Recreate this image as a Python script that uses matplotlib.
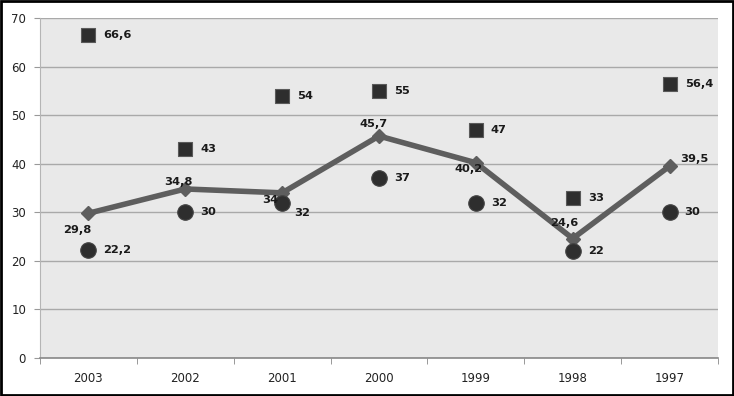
import matplotlib.pyplot as plt
from matplotlib.patches import Rectangle

years = ['2003', '2002', '2001', '2000', '1999', '1998', '1997']
squares = [66.6, 43, 54, 55, 47, 33, 56.4]
circles = [22.2, 30, 32, 37, 32, 22, 30]
line_vals = [29.8, 34.8, 34, 45.7, 40.2, 24.6, 39.5]

# label offsets for the line series, in pixels (dx, dy)
line_offsets = [(-11, -17), (-7, 7), (-12, -7), (-5, 12), (-7, -6), (-8, 16), (25, 7)]
circle_offsets = [(15, 0)] * 7
circle_offsets[2] = (12, -10)

def fmt(v):
    s = ('%g' % v).replace('.', ',')
    return s

fig = plt.figure(figsize=(7.34, 3.96), dpi=100)
ax = fig.add_axes([40 / 734, 38 / 396, 678 / 734, 340 / 396])
ax.set_facecolor('#e9e9e9')

x = list(range(len(years)))
ax.set_xlim(-0.5, 6.5)
ax.set_ylim(0, 70)
ax.set_yticks(range(0, 71, 10))
ax.yaxis.grid(True, color='#a9a9a9', lw=1)
ax.set_axisbelow(True)

ax.plot(x, line_vals, color='#5e5e5e', lw=4, marker='D', ms=7, zorder=3)
ax.scatter(x, squares, marker='s', s=115, color='#2e2e2e', edgecolors='#5a5a5a', lw=0.8, zorder=4)
ax.scatter(x, circles, marker='o', s=125, color='#2e2e2e', edgecolors='#444444', lw=0.8, zorder=4)

tk = dict(fontsize=8.2, fontweight='bold', color='#1a1a1a', zorder=5)
for i in x:
    ax.annotate(fmt(squares[i]), (i, squares[i]), xytext=(15, 0), textcoords='offset pixels',
                ha='left', va='center', **tk)
    ax.annotate(fmt(circles[i]), (i, circles[i]), xytext=circle_offsets[i], textcoords='offset pixels',
                ha='left', va='center', **tk)
    ax.annotate(fmt(line_vals[i]), (i, line_vals[i]), xytext=line_offsets[i], textcoords='offset pixels',
                ha='center', va='center', **tk)

ax.set_xticks(x)
ax.set_xticklabels(years)
ax.set_xticks([i - 0.5 for i in range(8)], minor=True)
ax.tick_params(axis='x', which='major', length=0, pad=10, labelsize=8.5, labelcolor='#222222')
ax.tick_params(axis='x', which='minor', length=4, color='#888888')
ax.tick_params(axis='y', length=4, color='#999999', labelsize=8.5, labelcolor='#222222', pad=6)

for side in ['top', 'right']:
    ax.spines[side].set_visible(False)
ax.spines['left'].set_color('#b5b5b5')
ax.spines['bottom'].set_color('#888888')
ax.spines['bottom'].set_linewidth(1.2)

fig.patches.append(Rectangle((0.001, 0.002), 0.997, 0.995, transform=fig.transFigure,
                             fill=False, edgecolor='black', lw=2))

fig.savefig('out.png', dpi=100)
